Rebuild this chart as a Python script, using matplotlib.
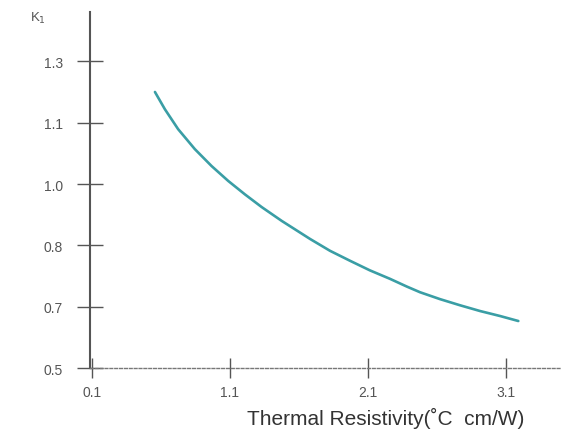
import numpy as np
import matplotlib
matplotlib.use("Agg")
import matplotlib.pyplot as plt

plt.rcParams['font.family'] = ['Liberation Sans', 'DejaVu Sans']

# curve (y in the evenly spaced tick scale)
resistivity = [0.557, 0.629, 0.725, 0.846, 0.967, 1.088, 1.209, 1.330, 1.475,
               1.680, 1.825, 1.970, 2.114, 2.259, 2.380, 2.477, 2.622, 2.767, 2.912,
               3.057, 3.189]
k1 = [1.220, 1.175, 1.123, 1.071, 1.027, 0.988, 0.953, 0.920, 0.884,
      0.837, 0.806, 0.780, 0.755, 0.733, 0.713, 0.698, 0.680, 0.664, 0.649,
      0.636, 0.623]

x_ticks = [0.1, 1.1, 2.1, 3.1]
y_ticks = np.linspace(0.5, 1.3, 6)
y_labels = ['0.5', '0.7', '0.8', '1.0', '1.1', '1.3']

fig = plt.figure(figsize=(5.76, 4.39), dpi=100)
ax = fig.add_axes([0.156, 0.159, 0.816, 0.811])

ax.plot(resistivity, k1, color='#3a9ea5', lw=1.9, solid_capstyle='round',
        solid_joinstyle='round')

ax.set_xlim(0.0855, 3.49)
ax.set_ylim(0.5, 1.428)

ax.set_xticks(x_ticks)
ax.set_xticklabels([str(v) for v in x_ticks])
ax.set_yticks(y_ticks)
ax.set_yticklabels(y_labels)

ax.tick_params(axis='y', direction='inout', length=19, width=1, color='#555555',
               labelsize=10, labelcolor='#555555', pad=10)
ax.tick_params(axis='x', direction='inout', length=14, width=1, color='#555555',
               labelsize=10, labelcolor='#555555', pad=5)

for s in ['top', 'right']:
    ax.spines[s].set_visible(False)
ax.spines['left'].set_color('#555555')
ax.spines['left'].set_linewidth(1.5)
ax.spines['bottom'].set_color('#777777')
ax.spines['bottom'].set_linewidth(1)
ax.spines['bottom'].set_linestyle((0, (2, 1.5)))

fig.text(0.052, 0.957, 'K$_1$', fontsize=9.5, color='#555555', va='center')
ax.set_xlabel('Thermal Resistivity(˚C  cm/W)', fontsize=15, color='#333333')
ax.xaxis.set_label_coords(0.63, -0.108, transform=ax.transAxes)
ax.xaxis.label.set_va('top')

fig.savefig('out.png', dpi=100)
